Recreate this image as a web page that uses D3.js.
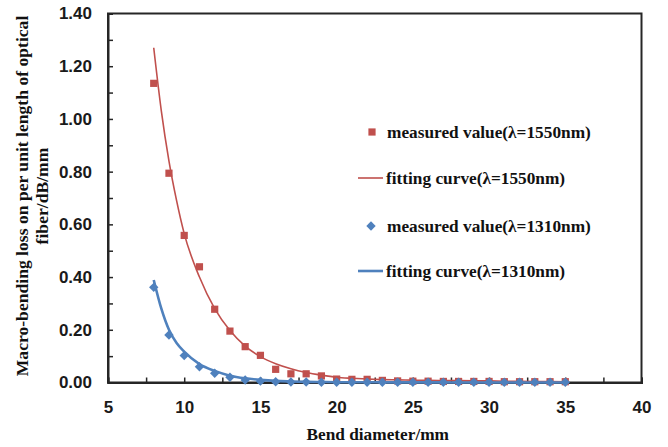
<!DOCTYPE html>
<html><head><meta charset="utf-8">
<script src="https://cdn.jsdelivr.net/npm/d3@7"></script>
<style>body{margin:0;background:#fff}</style>
</head><body><svg id="c" width="668" height="447"></svg>
<script>
// ---- data ----
const diameters = [8,9,10,11,12,13,14,15,16,17,18,19,20,21,22,23,24,25,26,27,28,29,30,31,32,33,34,35];
const measured1550 = [1.135,0.794,0.558,0.439,0.278,0.195,0.136,0.103,0.050,0.033,0.033,0.025,0.013,0.012,0.012,0.008,0.006,0.005,0.005,0.004,0.004,0.004,0.004,0.003,0.003,0.003,0.003,0.003];
const measured1310 = [0.361,0.180,0.102,0.060,0.035,0.020,0.0095,0.005,0.003,0.002,0.002,0.001,0.001,0.001,0.001,0.001,0.001,0.001,0.001,0.001,0.001,0.001,0.001,0.001,0.001,0.001,0.001,0.001];
const fitX = [8,8.5,9,9.5,10,11,12,13,14,15,16,17,18,19,20,21,22,23,24,25,26,27,28,29,30,31,32,33,34,35];
const fit1550 = [1.27,1.03,0.84,0.69,0.565,0.40,0.28,0.197,0.138,0.098,0.071,0.052,0.038,0.028,0.020,0.016,0.013,0.011,0.010,0.009,0.008,0.0075,0.007,0.0065,0.006,0.005,0.0045,0.004,0.0035,0.003];
const fit1310 = [0.389,0.28,0.20,0.15,0.117,0.070,0.044,0.026,0.016,0.010,0.006,0.004,0.0025,0.0018,0.0012,0.001,0.0008,0.0006,0.0005,0.0004,0.0003,0.0003,0.0002,0.0002,0.0002,0.0001,0.0001,0.0001,0.0001,0.0001];
const xTicks = [5,7.5,10,12.5,15,17.5,20,22.5,25,27.5,30,32.5,35,37.5,40];
const yTicks = [0,0.1,0.2,0.3,0.4,0.5,0.6,0.7,0.8,0.9,1.0,1.1,1.2,1.3,1.4];
const seriesNames = ["measured value(λ=1550nm)","fitting curve(λ=1550nm)","measured value(λ=1310nm)","fitting curve(λ=1310nm)"];
const xTitle = "Bend diameter/mm";
const yTitle = ["Macro-bending loss on per unit length of optical","fiber/dB/mm"];

// ---- layout ----
const RED = "#C0504D", BLUE = "#4F81BD";
const L = 108, R = 641.5, T = 13.5, B = 382.5;
const svg = d3.select("#c");
const x = d3.scaleLinear().domain([5,40]).range([L,R]);
const y = d3.scaleLinear().domain([0,1.4]).range([B,T]);
const tickFont = "bold 17px 'Liberation Sans', Arial, sans-serif";
const serif = "'Liberation Serif','Times New Roman',serif";

// frame
svg.append("rect").attr("x",L).attr("y",T).attr("width",R-L).attr("height",B-T)
  .attr("fill","none").attr("stroke","#262626").attr("stroke-width",2);

// axes
const yAxis = d3.axisLeft(y).tickValues(yTicks).tickSize(-5).tickPadding(16)
  .tickFormat((d,i)=> i%2===0 ? d3.format(".2f")(d) : "");
const gy = svg.append("g").attr("transform",`translate(${L},0)`).call(yAxis);
const xAxis = d3.axisBottom(x).tickValues(xTicks).tickSize(-5).tickPadding(18)
  .tickFormat((d,i)=> i%2===0 ? d3.format("d")(d) : "");
const gx = svg.append("g").attr("transform",`translate(0,${B})`).call(xAxis);
[gx,gy].forEach(g=>{
  g.select(".domain").attr("stroke","#262626").attr("stroke-width",2);
  g.selectAll(".tick line").attr("stroke","#262626").attr("stroke-width",1.5);
  g.selectAll(".tick text").style("font",tickFont).attr("fill","#1a1a1a");
});
gx.selectAll(".tick text").attr("dy","0.75em");

// series
const line = d3.line().x(d=>x(d[0])).y(d=>y(d[1])).curve(d3.curveMonotoneX);
const sq = d3.symbol().type(d3.symbolSquare).size(52);
const dia = d3.symbol().type(d3.symbolSquare).size(44);

svg.append("g").selectAll("path").data(diameters.map((d,i)=>[d,measured1550[i]])).join("path")
  .attr("d",sq).attr("transform",d=>`translate(${x(d[0])},${y(d[1])})`).attr("fill",RED);
svg.append("path").datum(fitX.map((d,i)=>[d,fit1550[i]])).attr("d",line)
  .attr("fill","none").attr("stroke",RED).attr("stroke-width",1.6);
svg.append("g").selectAll("path").data(diameters.map((d,i)=>[d,measured1310[i]])).join("path")
  .attr("d",dia).attr("transform",d=>`translate(${x(d[0])},${y(d[1])}) rotate(45)`).attr("fill",BLUE);
svg.append("path").datum(fitX.map((d,i)=>[d,fit1310[i]])).attr("d",line)
  .attr("fill","none").attr("stroke",BLUE).attr("stroke-width",2.6);

// legend
const lg = svg.append("g").style("font",`bold 17.3px ${serif}`).attr("fill","#111");
const legY = [132,178,226,271];
lg.append("path").attr("d",sq).attr("transform",`translate(372,${legY[0]})`).attr("fill",RED);
lg.append("line").attr("x1",358).attr("x2",383).attr("y1",legY[1]).attr("y2",legY[1]).attr("stroke",RED).attr("stroke-width",1.6);
lg.append("path").attr("d",dia).attr("transform",`translate(371,${legY[2]}) rotate(45)`).attr("fill",BLUE);
lg.append("line").attr("x1",358).attr("x2",383).attr("y1",legY[3]).attr("y2",legY[3]).attr("stroke",BLUE).attr("stroke-width",2.6);
seriesNames.forEach((s,i)=>{
  lg.append("text").attr("x", i%2===0 ? 387 : 386).attr("y",legY[i]).attr("dy","0.35em").text(s);
});

// titles
svg.append("text").attr("x",(L+R)/2+3).attr("y",440).attr("text-anchor","middle")
  .style("font",`bold 17.3px ${serif}`).attr("fill","#111").text(xTitle);
const yt = svg.append("text").attr("transform","translate(0,196) rotate(-90)").attr("text-anchor","middle")
  .style("font",`bold 17.6px ${serif}`).attr("fill","#111");
yt.append("tspan").attr("x",0).attr("y",28).text(yTitle[0]);
yt.append("tspan").attr("x",0).attr("y",48).text(yTitle[1]);
</script></body></html>
